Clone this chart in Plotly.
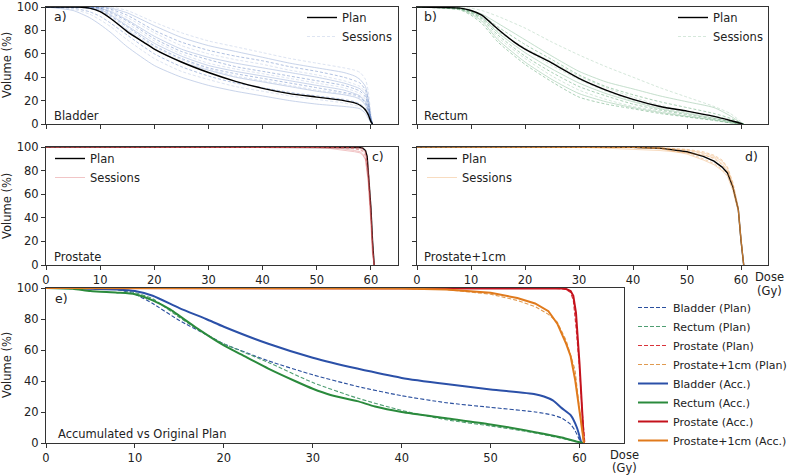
import plotly.graph_objects as go

# ---------------- DATA ----------------
# Panel a: Bladder
bl_plan_dose = [0, 4, 6, 8, 10, 12, 15, 18, 20, 25, 30, 35, 40, 45, 50, 55, 57, 58, 59, 59.5, 60, 60.3]
bl_plan_vol = [100, 100, 100, 99, 96, 90, 79, 70, 64, 53, 44, 36.5, 30.5, 26, 23, 20, 18, 16, 12, 8, 2, 0]
bl_sess_dose = [0, 5, 8, 10, 12, 15, 20, 25, 30, 35, 40, 45, 50, 55, 57, 58, 59, 59.5, 60, 60.3]
bl_sessions = [
    [100, 100, 100, 100, 100, 97, 87, 78, 71, 66, 61, 56, 52, 48, 46, 44, 38, 28, 8, 0],
    [100, 100, 100, 100, 99, 95, 84, 74, 67, 62, 57, 52, 48, 44, 41, 38, 32, 22, 6, 0],
    [100, 100, 100, 100, 98, 93, 80, 70, 63, 58, 54, 49, 45, 40, 37, 35, 29, 20, 5, 0],
    [100, 100, 100, 99, 97, 91, 78, 67, 60, 55, 51, 46, 42, 37, 34, 32, 27, 18, 5, 0],
    [100, 100, 100, 99, 96, 89, 75, 64, 57, 52, 48, 44, 40, 35, 32, 30, 25, 17, 4, 0],
    [100, 100, 100, 99, 95, 88, 73, 62, 55, 49, 45, 41, 37, 33, 30, 28, 23, 15, 4, 0],
    [100, 100, 100, 98, 94, 86, 71, 60, 52, 47, 43, 39, 35, 31, 28, 26, 21, 14, 3, 0],
    [100, 100, 99, 98, 93, 84, 69, 58, 50, 45, 41, 37, 33, 29, 26, 24, 19, 13, 3, 0],
    [100, 100, 99, 97, 92, 83, 67, 56, 48, 43, 39, 35, 31, 27, 25, 23, 18, 12, 3, 0],
    [100, 100, 99, 97, 91, 81, 66, 55, 47, 41, 37, 33, 29, 26, 24, 22, 17, 11, 2, 0],
    [100, 100, 99, 96, 90, 80, 64, 53, 46, 40, 36, 32, 28, 25, 23, 21, 16, 10, 2, 0],
    [100, 99, 96, 92, 86, 76, 60, 49, 41, 35, 31, 27, 24, 21, 19, 17, 13, 8, 2, 0],
    [100, 98, 94, 89, 83, 72, 56, 45, 38, 32, 28, 24, 21, 18, 16, 15, 11, 7, 1, 0],
    [100, 97, 91, 85, 78, 66, 50, 40, 33, 28, 24, 20, 17, 15, 14, 13, 9, 5, 1, 0],
]

# Panel b: Rectum
re_plan_dose = [0, 5, 8, 10, 12, 15, 18, 20, 25, 30, 35, 40, 45, 50, 55, 58, 60, 60.3]
re_plan_vol = [100, 99.5, 99, 97, 93, 81, 70, 64, 52, 39, 29, 21, 15, 11, 6.5, 3, 0.5, 0]
re_sess_dose = [0, 5, 8, 10, 12, 15, 20, 25, 30, 35, 40, 45, 50, 55, 58, 60, 60.5]
re_sessions = [
    [100, 100, 99.5, 99, 97, 92, 82, 70, 59, 49, 40, 31, 23, 15, 9, 2, 0],
    [100, 100, 99, 97, 94, 86, 72, 58, 45, 36, 30, 24, 19, 14, 7, 1, 0],
    [100, 100, 99, 97, 93, 83, 68, 55, 42, 32, 25, 19, 14, 9, 5, 1, 0],
    [100, 99.5, 99, 96, 92, 80, 64, 50, 38, 28, 20, 14, 10, 6, 3, 0.5, 0],
    [100, 99.5, 98.5, 96, 91, 78, 61, 47, 35, 26, 19, 13, 9, 5, 2, 0.5, 0],
    [100, 99.5, 98.5, 95, 90, 76, 58, 44, 32, 24, 17, 12, 8, 4.5, 2, 0, 0],
    [100, 99, 98, 95, 89, 74, 56, 41, 29, 21, 15, 11, 7, 4, 1.5, 0, 0],
    [100, 99, 98, 94, 88, 72, 53, 38, 26, 19, 14, 10, 6.5, 3.5, 1, 0, 0],
    [100, 99, 97.5, 93, 86, 70, 51, 36, 23, 17, 13, 9, 6, 3, 1, 0, 0],
    [100, 99.5, 98.5, 96, 91, 79, 65, 53, 41, 31, 23, 16, 11, 7, 4, 0.5, 0],
]

# Panel c: Prostate
pr_plan_dose = [0, 50, 55, 57, 58, 58.5, 59, 59.3, 59.6, 60, 60.3, 60.6]
pr_plan_vol = [100, 100, 100, 99.8, 99.5, 99, 97, 92, 75, 48, 20, 0]
pr_sess_dose = [0, 45, 50, 52, 54, 56, 57, 58, 58.5, 59, 59.5, 60, 60.3, 60.6]
pr_sessions = [
    [100, 100, 100, 100, 100, 99.8, 99.5, 99, 98, 95, 80, 45, 15, 0],
    [100, 100, 100, 99.8, 99.5, 99, 98.5, 97.5, 96, 92, 75, 40, 12, 0],
    [100, 100, 99.8, 99.5, 99, 98, 97, 96, 94, 90, 72, 38, 10, 0],
    [100, 100, 100, 100, 99.8, 99.5, 99, 98, 97, 94, 78, 42, 13, 0],
    [100, 100, 99.5, 99, 98, 97, 96, 95, 93, 89, 70, 35, 8, 0],
    [100, 100, 100, 100, 100, 100, 99.8, 99.5, 99, 97, 85, 50, 18, 0],
]

# Panel d: Prostate+1cm
p1_plan_dose = [0, 30, 35, 40, 45, 50, 53, 55, 56.5, 57.5, 58.5, 59.5, 60, 60.5]
p1_plan_vol = [100, 100, 100, 99.7, 99, 96, 92, 88, 83, 78, 66, 47, 21, 0]
p1_sess_dose = [0, 30, 35, 40, 45, 50, 53, 55, 56.5, 57.5, 58.5, 59.5, 60, 60.5]
p1_sessions = [
    [100, 100, 100, 99.8, 99.5, 97.5, 95, 92, 88, 82, 69, 48, 20, 0],
    [100, 100, 99.8, 99.5, 98.5, 95, 90, 86, 81, 76, 64, 46, 21, 0],
    [100, 99.8, 99, 98, 97, 95, 93, 91, 86, 80, 67, 47, 22, 0],
    [100, 100, 100, 99.6, 99, 97, 94, 90, 85, 79, 67, 47, 21, 0],
    [100, 100, 99.9, 99.5, 98.5, 94, 89, 85, 80, 75, 63, 45, 20, 0],
    [100, 100, 100, 99.9, 99.5, 98, 96, 93, 89, 83, 70, 49, 22, 0],
]

# Panel e: accumulated
bl_acc_dose = [0, 3, 5, 8, 10, 12, 15, 18, 20, 25, 30, 35, 40, 45, 50, 55, 56, 57, 58, 59, 59.7, 60.2]
bl_acc_vol = [100, 100, 99.5, 99, 98, 95, 87, 80, 75, 64, 55, 48, 42, 38, 34.5, 31.5, 30, 27.5, 22.5, 18, 10, 0]
re_acc_dose = [0, 3, 5, 8, 10, 12, 14, 15, 17, 20, 22, 25, 28, 30, 32, 35, 37, 40, 45, 50, 55, 58, 60, 60.5]
re_acc_vol = [100, 99.5, 98, 97, 96, 92, 86, 82, 74, 63, 57, 48, 40, 35, 31, 27, 23.5, 20, 16, 12, 7, 3.5, 0.5, 0]
pr_acc_dose = [0, 55, 58, 58.5, 59, 59.3, 59.6, 60, 60.3, 60.5]
pr_acc_vol = [100, 100, 99.7, 99.3, 98, 95, 84, 51, 19, 0]
p1_acc_dose = [0, 35, 38, 40, 45, 50, 53, 55, 56.5, 57.5, 58.5, 59, 59.5, 60, 60.5]
p1_acc_vol = [100, 100, 99.9, 99.7, 99, 97, 93.5, 90, 85, 77, 64, 56, 41, 19, 0]

y_ticks = [0, 20, 40, 60, 80, 100]
x_ticks = [0, 10, 20, 30, 40, 50, 60]

# ---------------- STYLE ----------------
W, H = 788, 475
FONT = "DejaVu Sans"
TXT = "#222222"
SPINE = "#333333"

def fx(p):
    return p / W

def fy(p):
    return 1 - p / H

panels = {
    "a": dict(ax="", box=(46, 398, 7, 124), xlab=False, ylab=True),
    "b": dict(ax="2", box=(417, 768, 7, 124), xlab=False, ylab=False),
    "c": dict(ax="3", box=(46, 398, 147, 265), xlab=True, ylab=True),
    "d": dict(ax="4", box=(417, 768, 147, 265), xlab=True, ylab=False),
    "e": dict(ax="5", box=(46, 624, 288, 443), xlab=True, ylab=True),
}

fig = go.Figure()

def add_sessions(ax, dose, sessions, color, legend, dash_cycle, op_cycle, shape):
    for i, s in enumerate(sessions):
        fig.add_trace(go.Scatter(
            x=dose, y=s, mode="lines", xaxis="x" + ax, yaxis="y" + ax,
            line=dict(color=color, width=0.8, dash=dash_cycle[i % len(dash_cycle)],
                      shape=shape, smoothing=0.6),
            opacity=op_cycle[i % len(op_cycle)], name="Sessions",
            legendgroup="s" + legend, showlegend=(i == 0), legend=legend,
            legendrank=2, hoverinfo="skip"))

def add_plan(ax, dose, vol, legend, shape):
    fig.add_trace(go.Scatter(
        x=dose, y=vol, mode="lines", xaxis="x" + ax, yaxis="y" + ax,
        line=dict(color="black", width=1.4, shape=shape, smoothing=0.6),
        name="Plan", legend=legend, legendrank=1))

DASH = "3px,2px"
add_sessions("", bl_sess_dose, bl_sessions, "#3d66b5", "legend", [DASH, "solid", DASH],
             [0.22, 0.35, 0.5], "spline")
add_plan("", bl_plan_dose, bl_plan_vol, "legend", "spline")
add_sessions("2", re_sess_dose, re_sessions, "#2e8b4a", "legend2", [DASH, "solid", DASH],
             [0.25, 0.35, 0.5], "spline")
add_plan("2", re_plan_dose, re_plan_vol, "legend2", "spline")
add_plan("3", pr_plan_dose, pr_plan_vol, "legend3", "linear")
add_sessions("3", pr_sess_dose, pr_sessions, "#d4474a", "legend3", ["solid", DASH],
             [0.4, 0.5], "linear")
add_plan("4", p1_plan_dose, p1_plan_vol, "legend4", "linear")
add_sessions("4", p1_sess_dose, p1_sessions, "#e8903a", "legend4", ["solid", DASH],
             [0.4, 0.5], "linear")

# Panel e
E_DASH = "4px,2px"
e_series = [
    ("Bladder (Plan)", bl_plan_dose, bl_plan_vol, "#2a4f9e", E_DASH, 1.1, "spline"),
    ("Rectum (Plan)", re_plan_dose, re_plan_vol, "#4f9e72", E_DASH, 1.1, "spline"),
    ("Prostate (Plan)", pr_plan_dose, pr_plan_vol, "#d9333a", E_DASH, 1.1, "linear"),
    ("Prostate+1cm (Plan)", p1_plan_dose, p1_plan_vol, "#e09a50", E_DASH, 1.1, "linear"),
    ("Bladder (Acc.)", bl_acc_dose, bl_acc_vol, "#2b50a8", "solid", 2.0, "spline"),
    ("Rectum (Acc.)", re_acc_dose, re_acc_vol, "#2a8a3c", "solid", 2.0, "spline"),
    ("Prostate (Acc.)", pr_acc_dose, pr_acc_vol, "#c4121c", "solid", 2.0, "linear"),
    ("Prostate+1cm (Acc.)", p1_acc_dose, p1_acc_vol, "#e07a1c", "solid", 2.0, "linear"),
]
for name, dx, vy, col, dash, w, shp in e_series:
    fig.add_trace(go.Scatter(
        x=dx, y=vy, mode="lines", xaxis="x5", yaxis="y5",
        line=dict(color=col, width=w, dash=dash, shape=shp, smoothing=0.6),
        name=name, legend="legend5"))

layout = dict(
    width=W, height=H, margin=dict(l=0, r=0, t=0, b=0, autoexpand=False),
    paper_bgcolor="white", plot_bgcolor="white",
    font=dict(family=FONT, size=11, color=TXT),
    showlegend=True,
)

for key, p in panels.items():
    x0, x1, yt, yb = p["box"]
    ax = p["ax"]
    common = dict(
        showline=True, linecolor=SPINE, linewidth=1, mirror=True,
        ticks="outside", ticklen=4, tickwidth=1, tickcolor=SPINE,
        showgrid=False, zeroline=False, ticklabeloverflow="allow",
        tickfont=dict(family=FONT, size=11.5, color=TXT), fixedrange=True,
        automargin=False)
    layout["xaxis" + ax] = dict(
        domain=[fx(x0), fx(x1)], range=[0, 65], anchor="y" + ax,
        tickvals=x_ticks, showticklabels=p["xlab"], **common)
    layout["yaxis" + ax] = dict(
        domain=[fy(yb), fy(yt)], range=[0, 100], anchor="x" + ax,
        tickvals=y_ticks, showticklabels=p["ylab"], **common)

def leg(xpx, ypx, size=11.5):
    return dict(x=fx(xpx), y=fy(ypx), xanchor="left", yanchor="top",
                bgcolor="rgba(0,0,0,0)", borderwidth=0,
                font=dict(family=FONT, size=size, color=TXT), itemwidth=30,
                tracegroupgap=0)

layout["legend"] = leg(302, 3)
layout["legend2"] = leg(673, 3)
layout["legend3"] = leg(50, 144)
layout["legend4"] = leg(422, 144)
layout["legend5"] = leg(633, 293, size=11)

ann = []
def text(s, xpx, ypx, size=11.5, xanchor="left", yanchor="middle", angle=0, align="left"):
    ann.append(dict(text=s, x=fx(xpx), y=fy(ypx), xref="paper", yref="paper",
                    xanchor=xanchor, yanchor=yanchor, showarrow=False, textangle=angle,
                    align=align, font=dict(family=FONT, size=size, color=TXT)))

text("a)", 52, 17, size=12.5)
text("b)", 422, 17, size=12.5)
text("c)", 386, 156, size=12.5, xanchor="right")
text("d)", 760, 156, size=12.5, xanchor="right")
text("e)", 53, 298, size=12.5)
text("Bladder", 52, 116)
text("Rectum", 422, 116)
text("Prostate", 52, 257)
text("Prostate+1cm", 422, 257)
text("Accumulated vs Original Plan", 56, 434)
text("Volume (%)", 7, 65, xanchor="center", angle=-90)
text("Volume (%)", 7, 206, xanchor="center", angle=-90)
text("Volume (%)", 7, 365, xanchor="center", angle=-90)
text("Dose", 769, 277, xanchor="center")
text("(Gy)", 769, 291, xanchor="center")
text("Dose", 624, 455, xanchor="center")
text("(Gy)", 624, 468, xanchor="center")
layout["annotations"] = ann

fig.update_layout(**layout)
fig.write_html("out.html")
